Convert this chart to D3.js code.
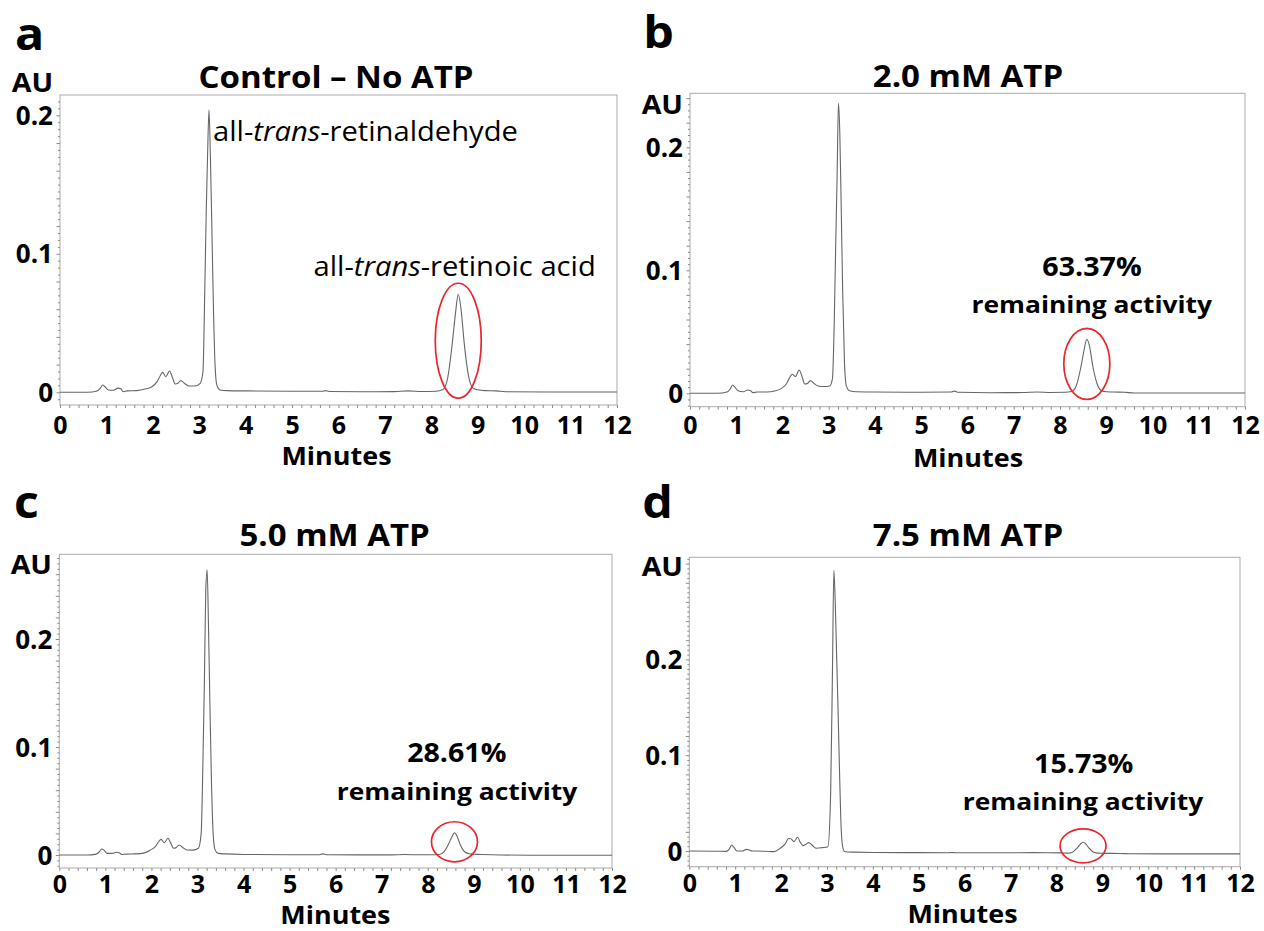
<!DOCTYPE html>
<html>
<head>
<meta charset="utf-8">
<script src="https://cdn.jsdelivr.net/npm/d3@7"></script>
<style>
  body { margin: 0; background: #fff; }
  text { font-family: "Open Sans", "DejaVu Sans", sans-serif; }
</style>
</head>
<body>
<svg width="1264" height="931"></svg>
<script>
// retention time grid (minutes), shared by the four runs
var minutes = [0, 0.6, 0.8, 0.87, 0.92, 0.97, 1.04, 1.15, 1.25, 1.31,
  1.36, 1.45, 1.65, 1.85, 1.98, 2.09, 2.16, 2.21, 2.28, 2.36,
  2.42, 2.48, 2.54, 2.60, 2.68, 2.77, 2.9, 3.02, 3.08, 3.12,
  3.15, 3.18, 3.21, 3.24, 3.27, 3.30, 3.34, 3.38, 3.45, 3.6,
  4.0, 5.0, 5.65, 5.72, 5.8, 6.5, 7.2, 7.5, 7.8, 8.1,
  8.25, 8.35, 8.45, 8.52, 8.58, 8.64, 8.71, 8.8, 8.9, 9.0,
  9.15, 9.4, 9.6, 10.5, 12];

// absorbance (AU)
var controlAU = [0, 0, 0.001, 0.003, 0.0053, 0.004, 0.0017, 0.0015, 0.003, 0.0025,
  0.0005, 0.001, 0.0012, 0.0025, 0.004, 0.0077, 0.012, 0.0144, 0.0113, 0.0154,
  0.011, 0.006, 0.0065, 0.0084, 0.0065, 0.0046, 0.0045, 0.0065, 0.015, 0.075,
  0.13, 0.172, 0.204, 0.17, 0.122, 0.07, 0.02, 0.005, 0.0017, 0.0012,
  0.001, 0.0008, 0.0008, 0.0012, 0.0006, 0.0004, 0.0005, 0.001, 0.0006, 0.0008,
  0.002, 0.01, 0.035, 0.057, 0.0708, 0.06, 0.035, 0.012, 0.003, 0.0018,
  0.0012, 0.001, 0.0004, 0.0002, 0.0002];

var atp20AU = [0, 0, 0.001, 0.0035, 0.0068, 0.005, 0.002, 0.0012, 0.0027, 0.002,
  0.0005, 0.001, 0.001, 0.002, 0.004, 0.008, 0.013, 0.0155, 0.0136, 0.019,
  0.014, 0.0076, 0.008, 0.0103, 0.008, 0.006, 0.0055, 0.006, 0.012, 0.06,
  0.12, 0.175, 0.236, 0.21, 0.15, 0.085, 0.025, 0.006, 0.002, 0.0012,
  0.001, 0.0008, 0.001, 0.0018, 0.0008, 0.0005, 0.0006, 0.001, 0.0007, 0.0008,
  0.0015, 0.006, 0.021, 0.035, 0.0439, 0.038, 0.022, 0.008, 0.002, 0.0012,
  0.001, 0.0008, 0.0003, 0.0002, 0.0002];

var atp50AU = [0, 0, 0.0008, 0.003, 0.0056, 0.0045, 0.0015, 0.0015, 0.0025, 0.0018,
  0.0005, 0.0008, 0.001, 0.002, 0.0046, 0.008, 0.0125, 0.0145, 0.0114, 0.0155,
  0.011, 0.0062, 0.007, 0.0093, 0.007, 0.0046, 0.0045, 0.0062, 0.02, 0.09,
  0.16, 0.245, 0.264, 0.21, 0.14, 0.075, 0.02, 0.005, 0.0015, 0.001,
  0.0005, 0.0003, 0.0003, 0.001, 0.0003, 0.0001, 0.0001, 0.0004, 0.0002, 0.0002,
  0.0005, 0.003, 0.01, 0.0165, 0.0206, 0.017, 0.009, 0.003, 0.0012, 0.0007,
  0.0005, 0.0002, 0, -0.0003, -0.0003];

var atp75AU = [0, -0.0002, -0.0004, 0.002, 0.0063, 0.004, 0, 0, 0.0017, 0.001,
  0, 0, -0.0003, -0.0007, 0.0028, 0.0075, 0.013, 0.0128, 0.0098, 0.0143,
  0.009, 0.0056, 0.007, 0.0087, 0.006, 0.0028, 0.0035, 0.0045, 0.06, 0.19,
  0.293, 0.26, 0.205, 0.15, 0.09, 0.035, 0.005, -0.0005, -0.001, -0.0012,
  -0.0015, -0.0017, -0.0018, -0.0016, -0.0018, -0.0018, -0.0018, -0.0017, -0.0018, -0.002,
  -0.0022, -0.0012, 0.003, 0.007, 0.0091, 0.0075, 0.003, -0.001, -0.0022, -0.0024,
  -0.0025, -0.0026, -0.0028, -0.003, -0.003];

var panelLetters = ["a", "b", "c", "d"];
var panelTitles = ["Control \u2013 No ATP", "2.0 mM ATP", "5.0 mM ATP", "7.5 mM ATP"];
var remaining = [null, "63.37%", "28.61%", "15.73%"];
var xTickLabels = d3.range(0, 13);
var yTickLabels = [0, 0.1, 0.2];

var series = [controlAU, atp20AU, atp50AU, atp75AU];

// layout of each panel (pixels)
var panels = [
  { x0: 60, x1: 617, top: 95, bottom: 405, yZero: 392.3, yTenth: 253.8,
    letter: [29.6, 50], title: [336, 87.5], au: [32.5, 91.5], minutes: [336.5, 465], tickY: 434 },
  { x0: 690, x1: 1245, top: 93.3, bottom: 406.7, yZero: 393.3, yTenth: 270.3,
    letter: [658.5, 48], title: [968, 87], au: [662.3, 114], minutes: [968, 466.5], tickY: 434 },
  { x0: 59.3, x1: 612, top: 554.3, bottom: 868, yZero: 855, yTenth: 747,
    letter: [26.5, 518], title: [334.6, 546], au: [31.3, 574], minutes: [335.4, 924], tickY: 893 },
  { x0: 689.3, x1: 1240, top: 557.3, bottom: 866.7, yZero: 851, yTenth: 755.2,
    letter: [657.5, 518], title: [968, 546], au: [662.3, 575.5], minutes: [962.5, 923], tickY: 891.5 }
];

// annotation positions (pixels): percent line and "remaining activity" line
var notes = [
  null,
  { pct: [1092, 276], rem: [1091.8, 313] },
  { pct: [456.8, 761.7], rem: [457, 800] },
  { pct: [1083.7, 773.3], rem: [1083, 810] }
];

var TEXT_SX = 1.1;
var svg = d3.select("svg");

function addText(g, x, y, parts, size, weight, anchor) {
  var t = g.append("text")
    .attr("transform", "translate(" + x + "," + y + ") scale(" + TEXT_SX + ",1)")
    .attr("text-anchor", anchor || "middle")
    .attr("font-size", size)
    .attr("font-weight", weight)
    .attr("fill", "#000");
  [].concat(parts).forEach(function(p) {
    if (typeof p === "string") t.append("tspan").text(p);
    else t.append("tspan").attr("font-style", "italic").text(p.i);
  });
  return t;
}

panels.forEach(function(p, i) {
  var vals = series[i];
  var x = d3.scaleLinear().domain([0, 12]).range([p.x0, p.x1]);
  var y = d3.scaleLinear().domain([0, 0.1]).range([p.yZero, p.yTenth]);
  var g = svg.append("g");

  // frame
  g.append("rect")
    .attr("x", p.x0).attr("y", p.top)
    .attr("width", p.x1 - p.x0).attr("height", p.bottom - p.top)
    .attr("fill", "none").attr("stroke", "#ababab").attr("stroke-width", 1);

  // minor ticks, bottom
  var xMinor = d3.axisBottom(x).tickValues(d3.range(0, 12.001, 0.2)).tickSize(3).tickFormat("");
  var gx = g.append("g").attr("transform", "translate(0," + p.bottom + ")").call(xMinor);
  gx.select(".domain").remove();
  gx.selectAll("line").attr("stroke", "#8a8a8a");

  // minor ticks, left
  var lo = Math.ceil(y.invert(p.bottom) / 0.005) * 0.005;
  var hi = y.invert(p.top);
  var yMinor = d3.axisLeft(y).tickValues(d3.range(lo, hi, 0.005)).tickSize(2).tickFormat("");
  var gy = g.append("g").attr("transform", "translate(" + p.x0 + ",0)").call(yMinor);
  gy.select(".domain").remove();
  gy.selectAll("line").attr("stroke", "#8a8a8a")
    .attr("x2", function(d) { return Math.abs(Math.round(d / 0.005)) % 4 === 0 ? -3.5 : -2; });

  // tick labels
  var xLab = d3.axisBottom(x).tickValues(xTickLabels).tickSize(0).tickPadding(0);
  var gxl = g.append("g").attr("transform", "translate(0," + p.tickY + ")").call(xLab);
  gxl.select(".domain").remove();
  gxl.selectAll("text").attr("y", 0).attr("dy", 0)
    .attr("font-size", 25).attr("font-weight", 700)
    .attr("font-family", "'Open Sans', sans-serif").attr("fill", "#000");

  var yLab = d3.axisLeft(y).tickValues(yTickLabels).tickSize(0).tickPadding(7)
    .tickFormat(function(d) { return d === 0 ? "0" : d3.format(".1f")(d); });
  var gyl = g.append("g").attr("transform", "translate(" + p.x0 + ",0)").call(yLab);
  gyl.select(".domain").remove();
  gyl.selectAll("text").attr("dy", "0.35em")
    .attr("font-size", 26).attr("font-weight", 700)
    .attr("font-family", "'Open Sans', sans-serif").attr("fill", "#000");

  // chromatogram trace
  var line = d3.line()
    .x(function(d, k) { return x(minutes[k]); })
    .y(function(d) { return y(d); })
    .curve(d3.curveMonotoneX);
  g.append("path").datum(vals)
    .attr("d", line)
    .attr("fill", "none").attr("stroke", "#666").attr("stroke-width", 1.1);

  // red ellipse round the retinoic acid peak
  var idx = d3.range(minutes.length).filter(function(k) { return minutes[k] > 8 && minutes[k] < 9.2; });
  var kTop = d3.greatest(idx, function(k) { return vals[k]; });
  var yTop = y(vals[kTop]);
  var yBase = y(d3.min(idx, function(k) { return vals[k]; }));
  g.append("ellipse")
    .attr("cx", x(minutes[kTop]))
    .attr("cy", (yTop + yBase) / 2 - 2)
    .attr("rx", 23)
    .attr("ry", Math.max((yBase - yTop) / 2 + 9, 17))
    .attr("fill", "none").attr("stroke", "#e8262b").attr("stroke-width", 1.7);

  // texts
  addText(g, p.letter[0], p.letter[1], panelLetters[i], 44, 700);
  addText(g, p.title[0], p.title[1], panelTitles[i], 30, 700);
  addText(g, p.au[0], p.au[1], "AU", 26, 700);
  addText(g, p.minutes[0], p.minutes[1], "Minutes", 24.5, 700);

  if (remaining[i]) {
    addText(g, notes[i].pct[0], notes[i].pct[1], remaining[i], 26, 700);
    addText(g, notes[i].rem[0], notes[i].rem[1], "remaining activity", 24, 700);
  } else {
    addText(g, 213, 141, ["all-", { i: "trans" }, "-retinaldehyde"], 26.5, 400, "start");
    addText(g, 313.5, 276, ["all-", { i: "trans" }, "-retinoic acid"], 26.5, 400, "start");
  }
});
</script>
</body>
</html>
